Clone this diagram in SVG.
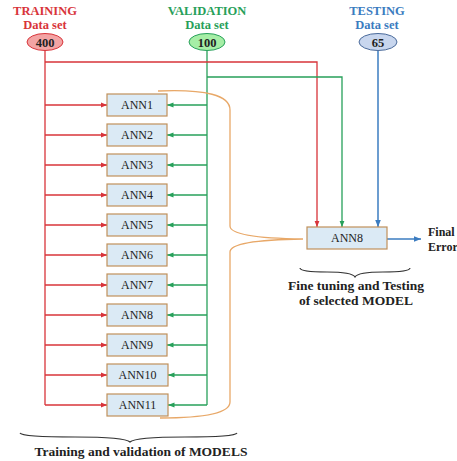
<svg xmlns="http://www.w3.org/2000/svg" width="457" height="461" viewBox="0 0 457 461">
<defs>
<marker id="ar" viewBox="0 0 10 10" refX="10" refY="5" markerWidth="5" markerHeight="5" orient="auto"><path d="M0,1 L10,5 L0,9 z" fill="#d8343a"/></marker>
<marker id="ag" viewBox="0 0 10 10" refX="10" refY="5" markerWidth="5" markerHeight="5" orient="auto"><path d="M0,1 L10,5 L0,9 z" fill="#27a05a"/></marker>
<marker id="ab" viewBox="0 0 10 10" refX="10" refY="5" markerWidth="5" markerHeight="5" orient="auto"><path d="M0,1 L10,5 L0,9 z" fill="#3b7cc0"/></marker>
</defs>
<style>
text{font-family:"Liberation Serif","Times New Roman",serif;}
.h{font-weight:bold;font-size:12.5px;text-anchor:middle;}
.b{fill:#dbeaf5;stroke:#c0905a;stroke-width:1.2;}
.l{font-size:12px;text-anchor:middle;fill:#222;}
.r{stroke:#d8343a;stroke-width:1.3;fill:none;}
.g{stroke:#27a05a;stroke-width:1.3;fill:none;}
.bl{stroke:#3b7cc0;stroke-width:1.5;fill:none;}
.br{stroke:#e8a868;stroke-width:1.3;fill:none;}
.k{fill:none;stroke:#333;stroke-width:1.2;}
.t{font-weight:bold;font-size:13.5px;text-anchor:middle;fill:#222;}
</style>
<g id="training">
<text class="h" x="45" y="15" fill="#d8343a">TRAINING</text>
<text class="h" x="45" y="29" fill="#d8343a">Data set</text>
<ellipse cx="45" cy="42" rx="18" ry="8.5" fill="#f3a4a4" stroke="#d8343a"/>
<text class="h" x="45" y="47" fill="#222">400</text>
</g>
<g id="validation">
<text class="h" x="207" y="15" fill="#27a05a">VALIDATION</text>
<text class="h" x="207" y="29" fill="#27a05a">Data set</text>
<ellipse cx="207" cy="42" rx="18" ry="8.5" fill="#a6eea6" stroke="#27a05a"/>
<text class="h" x="207" y="47" fill="#222">100</text>
</g>
<g id="testing">
<text class="h" x="377" y="15" fill="#3b7cc0">TESTING</text>
<text class="h" x="377" y="29" fill="#3b7cc0">Data set</text>
<ellipse cx="378" cy="42" rx="19" ry="8.5" fill="#c8d6ee" stroke="#4a6a9a"/>
<text class="h" x="378" y="47" fill="#222">65</text>
</g>
<g id="connectors">
<path class="r" d="M45,51 V405"/>
<path class="g" d="M207,51 V405"/>
<path class="r" d="M45,62 H317 V227" marker-end="url(#ar)"/>
<path class="g" d="M207,77 H342 V227" marker-end="url(#ag)"/>
<path class="bl" d="M378,51 V227" marker-end="url(#ab)"/>
<path class="bl" d="M387,239 H421" marker-end="url(#ab)"/>
<path class="r" d="M45,105 H107" marker-end="url(#ar)"/>
<path class="r" d="M45,135 H107" marker-end="url(#ar)"/>
<path class="r" d="M45,165 H107" marker-end="url(#ar)"/>
<path class="r" d="M45,195 H107" marker-end="url(#ar)"/>
<path class="r" d="M45,225 H107" marker-end="url(#ar)"/>
<path class="r" d="M45,255 H107" marker-end="url(#ar)"/>
<path class="r" d="M45,285 H107" marker-end="url(#ar)"/>
<path class="r" d="M45,315 H107" marker-end="url(#ar)"/>
<path class="r" d="M45,345 H107" marker-end="url(#ar)"/>
<path class="r" d="M45,375 H107" marker-end="url(#ar)"/>
<path class="r" d="M45,405 H107" marker-end="url(#ar)"/>
<path class="g" d="M207,105 H167" marker-end="url(#ag)"/>
<path class="g" d="M207,135 H167" marker-end="url(#ag)"/>
<path class="g" d="M207,165 H167" marker-end="url(#ag)"/>
<path class="g" d="M207,195 H167" marker-end="url(#ag)"/>
<path class="g" d="M207,225 H167" marker-end="url(#ag)"/>
<path class="g" d="M207,255 H167" marker-end="url(#ag)"/>
<path class="g" d="M207,285 H167" marker-end="url(#ag)"/>
<path class="g" d="M207,315 H167" marker-end="url(#ag)"/>
<path class="g" d="M207,345 H167" marker-end="url(#ag)"/>
<path class="g" d="M207,375 H168" marker-end="url(#ag)"/>
<path class="g" d="M207,405 H168" marker-end="url(#ag)"/>
<path class="br" d="M158,91 Q230,88 230,110 L230,226 Q230,238 303,239 Q230,240 230,252 L230,402 Q230,418 160,418"/>
</g>
<g id="ann1"><rect class="b" x="107" y="94" width="60" height="22"/><text class="l" x="137" y="109">ANN1</text></g>
<g id="ann2"><rect class="b" x="107" y="124" width="60" height="22"/><text class="l" x="137" y="139">ANN2</text></g>
<g id="ann3"><rect class="b" x="107" y="154" width="60" height="22"/><text class="l" x="137" y="169">ANN3</text></g>
<g id="ann4"><rect class="b" x="107" y="184" width="60" height="22"/><text class="l" x="137" y="199">ANN4</text></g>
<g id="ann5"><rect class="b" x="107" y="214" width="60" height="22"/><text class="l" x="137" y="229">ANN5</text></g>
<g id="ann6"><rect class="b" x="107" y="244" width="60" height="22"/><text class="l" x="137" y="259">ANN6</text></g>
<g id="ann7"><rect class="b" x="107" y="274" width="60" height="22"/><text class="l" x="137" y="289">ANN7</text></g>
<g id="ann8"><rect class="b" x="107" y="304" width="60" height="22"/><text class="l" x="137" y="319">ANN8</text></g>
<g id="ann9"><rect class="b" x="107" y="334" width="60" height="22"/><text class="l" x="137" y="349">ANN9</text></g>
<g id="ann10"><rect class="b" x="107" y="364" width="61" height="22"/><text class="l" x="137.5" y="379">ANN10</text></g>
<g id="ann11"><rect class="b" x="107" y="394" width="61" height="22"/><text class="l" x="137.5" y="409">ANN11</text></g>
<g id="ann8-selected"><rect class="b" x="307" y="227" width="80" height="22"/><text class="l" x="347" y="242">ANN8</text></g>
<g id="final-error">
<text x="428" y="236" font-size="12" font-weight="bold" fill="#222">Final</text>
<text x="428" y="251" font-size="12" font-weight="bold" fill="#222">Error</text>
</g>
<g id="label-fine">
<path class="k" d="M300,268 Q300,272 327,272 Q352,272 355,277 Q358,272 383,272 Q410,272 410,268"/>
<text class="t" x="356" y="290">Fine tuning and Testing</text>
<text class="t" x="356" y="305">of selected MODEL</text>
</g>
<g id="label-training">
<path class="k" d="M20,433 Q22,437 75,437 Q125,437 130,442 Q135,437 185,437 Q235,437 237,433"/>
<text class="t" x="141" y="456">Training and validation of MODELS</text>
</g>
</svg>
